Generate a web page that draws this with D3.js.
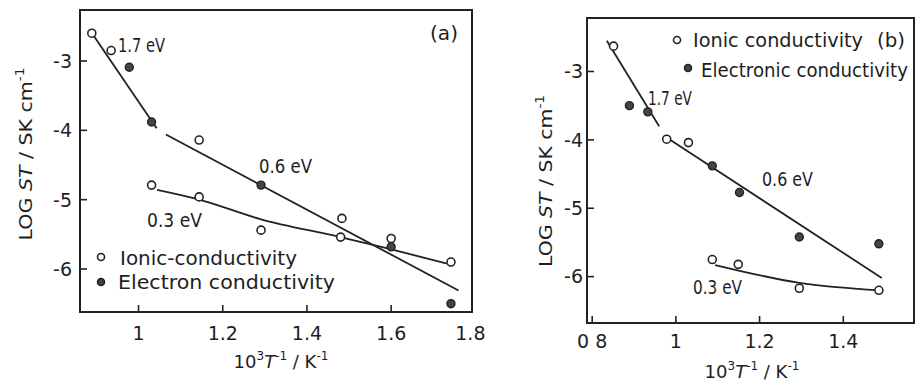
<!DOCTYPE html>
<html>
<head>
<meta charset="utf-8">
<script src="https://cdn.jsdelivr.net/npm/d3@7"></script>
<style>
  body { margin: 0; background: #fff; }
  svg text { font-family: "DejaVu Sans", sans-serif; fill: #1e1e1e; }
</style>
</head>
<body>
<svg id="chart" width="916" height="382"></svg>
<script>
// panel (a) values
const ionicA = [[0.889,-2.60],[0.935,-2.85],[1.144,-4.14],[1.483,-5.27],[1.031,-4.79],[1.144,-4.96],[1.291,-5.44],[1.48,-5.54],[1.60,-5.56],[1.742,-5.90]];
const electronA = [[0.978,-3.09],[1.031,-3.88],[1.291,-4.79],[1.60,-5.68],[1.742,-6.50]];
const fit17A = [[0.885,-2.56],[1.043,-3.97]];
const fit06A = [[1.065,-4.06],[1.76,-6.31]];
const fit03A = [[1.044,-4.86],[1.144,-5.00],[1.289,-5.28],[1.479,-5.54],[1.589,-5.70],[1.732,-5.92]];
const xTicksA = [1, 1.2, 1.4, 1.6, 1.8];
const xLabelsA = ["1", "1.2", "1.4", "1.6", "1.8"];

// panel (b)
const ionicB = [[0.851,-2.63],[0.978,-3.99],[1.030,-4.04],[1.087,-5.75],[1.149,-5.82],[1.295,-6.17],[1.485,-6.20]];
const electronB = [[0.889,-3.50],[0.933,-3.59],[1.087,-4.38],[1.152,-4.77],[1.295,-5.42],[1.485,-5.52]];
const fit17B = [[0.835,-2.55],[0.960,-3.80]];
const fit06B = [[0.986,-4.00],[1.492,-6.02]];
const fit03B = [[1.094,-5.83],[1.295,-6.09],[1.488,-6.20]];
const xTicksB = [0.8, 1, 1.2, 1.4];
const xLabelsB = ["0 8", "1", "1.2", "1.4"];

const yTicks = [-3, -4, -5, -6];

const svg = d3.select("#chart");

function drawPanel(p) {
    const x = d3.scaleLinear().domain(p.xDom).range([p.left, p.right]);
    const y = d3.scaleLinear().domain(p.yDom).range([p.top, p.bottom]);
    const g = svg.append("g");

    g.append("rect")
        .attr("x", p.left).attr("y", p.top)
        .attr("width", p.right - p.left).attr("height", p.bottom - p.top)
        .attr("fill", "none").attr("stroke", "#222").attr("stroke-width", 2);

    // inward ticks
    g.selectAll(".xt").data(p.xTicks.filter(d => x(d) > p.left + 2 && x(d) < p.right - 2)).enter()
        .append("line")
        .attr("x1", d => x(d)).attr("x2", d => x(d))
        .attr("y1", p.bottom).attr("y2", p.bottom - 7)
        .attr("stroke", "#222").attr("stroke-width", 1.6);
    g.selectAll(".xl").data(p.xTicks).enter()
        .append("text")
        .attr("x", (d, i) => x(d) + (p.xShift[i] || 0))
        .attr("y", p.xLabelY)
        .attr("text-anchor", "middle")
        .style("font-size", "19px")
        .text((d, i) => p.xLabels[i]);

    g.selectAll(".yt").data(yTicks).enter()
        .append("line")
        .attr("x1", p.left).attr("x2", p.left + 7)
        .attr("y1", d => y(d)).attr("y2", d => y(d))
        .attr("stroke", "#222").attr("stroke-width", 1.6);
    g.selectAll(".yl").data(yTicks).enter()
        .append("text")
        .attr("x", p.yLabelX)
        .attr("y", d => y(d))
        .attr("dy", "0.36em")
        .attr("text-anchor", "end")
        .style("font-size", "19px")
        .text(d => d);

    const line = d3.line().x(d => x(d[0])).y(d => y(d[1])).curve(d3.curveMonotoneX);
    [p.fit17, p.fit06, p.fit03].forEach(f => {
        g.append("path").attr("d", line(f))
            .attr("fill", "none").attr("stroke", "#222").attr("stroke-width", 1.8);
    });

    g.selectAll(".io").data(p.ionic).enter()
        .append("circle")
        .attr("cx", d => x(d[0])).attr("cy", d => y(d[1])).attr("r", 4)
        .attr("fill", "#fff").attr("stroke", "#222").attr("stroke-width", 1.6);
    g.selectAll(".el").data(p.electron).enter()
        .append("circle")
        .attr("cx", d => x(d[0])).attr("cy", d => y(d[1])).attr("r", 4)
        .attr("fill", "#444").attr("stroke", "#222").attr("stroke-width", 1.4);

    // x title
    const xt = g.append("text")
        .attr("x", p.xTitle[0]).attr("y", p.xTitle[1])
        .attr("text-anchor", "middle")
        .style("font-size", "18px");
    xt.append("tspan").text("10");
    xt.append("tspan").attr("dy", -8).style("font-size", "12px").text("3");
    xt.append("tspan").attr("dy", 8).style("font-style", "italic").text("T");
    xt.append("tspan").attr("dy", -8).style("font-size", "12px").text("-1");
    xt.append("tspan").attr("dy", 8).text(" / K");
    xt.append("tspan").attr("dy", -8).style("font-size", "12px").text("-1");

    // y title
    const yt = g.append("text")
        .attr("transform", `translate(${p.yTitle[0]},${p.yTitle[1]}) rotate(-90)`)
        .attr("text-anchor", "middle")
        .attr("textLength", p.yTitle[2]).attr("lengthAdjust", "spacingAndGlyphs")
        .style("font-size", "18px");
    yt.append("tspan").text("LOG  ");
    yt.append("tspan").style("font-style", "italic").text("ST");
    yt.append("tspan").text(" / SK cm");
    yt.append("tspan").attr("dy", -8).style("font-size", "12px").text("-1");

    p.notes.forEach(n => {
        g.append("text")
            .attr("x", n[1]).attr("y", n[2])
            .attr("textLength", n[3]).attr("lengthAdjust", "spacingAndGlyphs")
            .style("font-size", "19px")
            .text(n[0]);
    });

    p.legend.forEach(l => {
        g.append("circle")
            .attr("cx", l[0]).attr("cy", l[1]).attr("r", 3.5)
            .attr("fill", l[2] ? "#444" : "#fff")
            .attr("stroke", "#222").attr("stroke-width", 1.6);
    });
}

drawPanel({
    left: 80, right: 472, top: 10, bottom: 312,
    xDom: [0.861, 1.792], yDom: [-2.265, -6.62],
    xTicks: xTicksA, xLabels: xLabelsA, xShift: [0, 0, 0, 0, -5],
    xLabelY: 340, yLabelX: 72,
    fit17: fit17A, fit06: fit06A, fit03: fit03A,
    ionic: ionicA, electron: electronA,
    xTitle: [281, 368], yTitle: [32, 154, 173],
    notes: [["1.7 eV", 118, 52, 47], ["(a)", 430, 40, 28], ["0.6 eV", 259, 173, 53],
            ["0.3 eV", 147, 227, 55], ["Ionic-conductivity", 120, 265, 177],
            ["Electron conductivity", 118, 289, 217]],
    legend: [[101, 257, false], [101, 282, true]]
});

drawPanel({
    left: 587, right: 914, top: 18, bottom: 323,
    xDom: [0.7876, 1.569], yDom: [-2.218, -6.678],
    xTicks: xTicksB, xLabels: xLabelsB, xShift: [0, 0, 0, 0],
    xLabelY: 348, yLabelX: 583,
    fit17: fit17B, fit06: fit06B, fit03: fit03B,
    ionic: ionicB, electron: electronB,
    xTitle: [752, 378], yTitle: [552, 181, 172],
    notes: [["1.7 eV", 648, 105, 44], ["0.6 eV", 762, 186, 51], ["0.3 eV", 693, 294, 49],
            ["Ionic conductivity", 693, 47, 170], ["(b)", 877, 47, 28],
            ["Electronic conductivity", 701, 77, 207]],
    legend: [[677, 40, false], [688, 68, true]]
});
</script>
</body>
</html>
